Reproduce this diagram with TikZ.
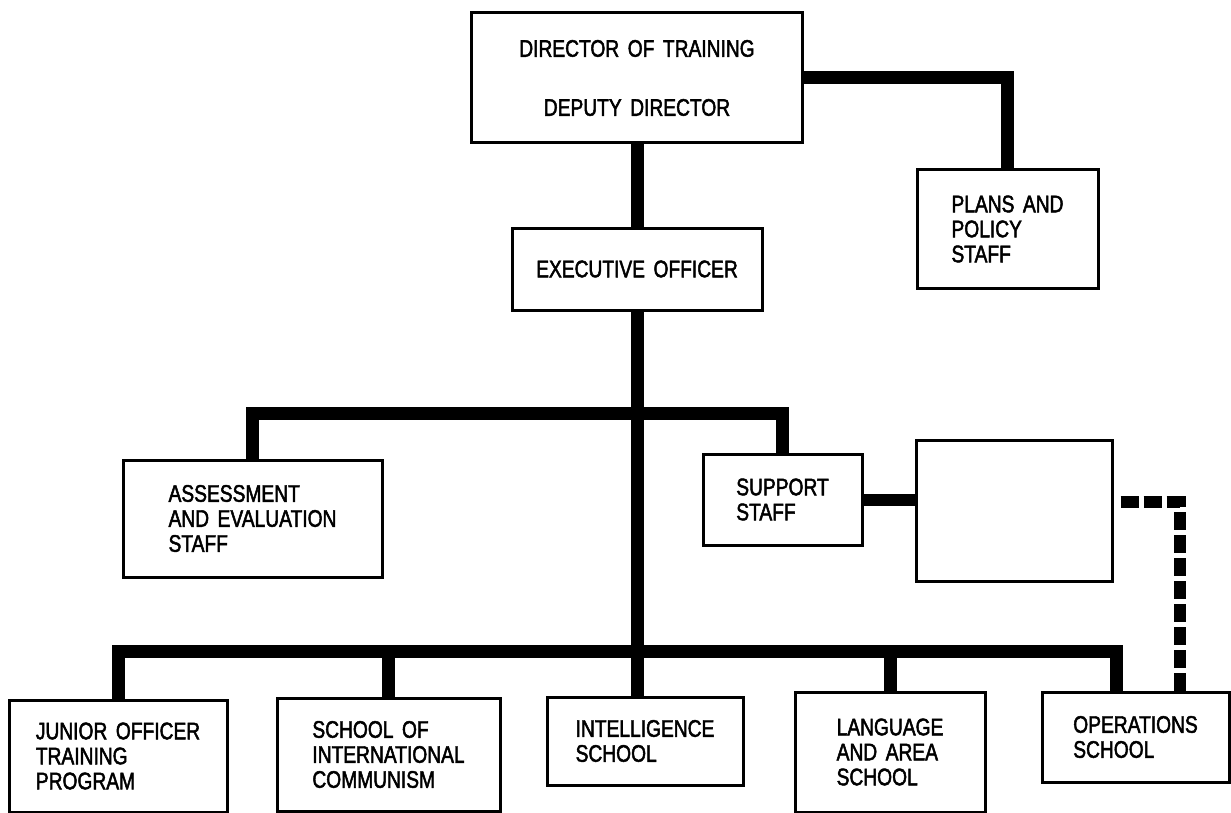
\documentclass[tikz,border=0pt]{standalone}
\usepackage{fontspec}
\setmainfont{Liberation Sans}[FakeStretch=0.8,FakeBold=2,WordSpace=1.6]
\usepackage{tikz}
\usetikzlibrary{calc}

\begin{document}
\begin{tikzpicture}[x=1pt,y=-1pt,
	box/.style={draw,line width=3pt,align=left,inner sep=4pt,font=\fontsize{24}{25}\selectfont},
	bar/.style={line width=13pt,line join=miter},
	dashbar/.style={line width=12pt,dash pattern=on 18pt off 5pt,line join=miter}]
	
	\useasboundingbox (0,0) rectangle (1231,813);
	
	\node[box,align=center,minimum width=331pt,minimum height=130pt] (director) at (637,78) {DIRECTOR OF TRAINING\\[34pt]DEPUTY DIRECTOR};
	\node[box,align=center,minimum width=250pt,minimum height=82pt] (exec) at (637,269) {EXECUTIVE OFFICER};
	\node[box,minimum width=181pt,minimum height=118pt] (plans) at (1007.5,229) {PLANS AND\\POLICY\\STAFF};
	
	\node[box,minimum width=259pt,minimum height=117pt] (assess) at (252.5,518.5) {ASSESSMENT\\AND EVALUATION\\STAFF};
	\node[box,minimum width=159pt,minimum height=91pt] (support) at (782.5,499.5) {SUPPORT\\STAFF};
	\node[box,minimum width=196pt,minimum height=141pt] (blank) at (1014,510.5) {};
	
	\node[box,minimum width=218pt,minimum height=112pt] (junior) at (118,756) {JUNIOR OFFICER\\TRAINING\\PROGRAM};
	\node[box,minimum width=223pt,minimum height=113pt] (school) at (388.5,754.5) {SCHOOL OF\\INTERNATIONAL\\COMMUNISM};
	\node[box,minimum width=196pt,minimum height=88pt] (intel) at (645,741) {INTELLIGENCE\\SCHOOL};
	\node[box,minimum width=190pt,minimum height=120pt] (lang) at (890,752) {LANGUAGE\\AND AREA\\SCHOOL};
	\node[box,minimum width=187pt,minimum height=90pt] (ops) at (1135.5,737) {OPERATIONS\\SCHOOL};
	
	\coordinate (upbus) at (640,413);
	\coordinate (lowbus) at (640,651);
	\coordinate (opsin) at ($(ops.north west)+(76,0)$);
	\coordinate (opsdash) at ($(ops.north west)+(139,0)$);
	
	\draw[bar] (director.south) -- (exec.north);
	\draw[bar] (director.east) -| (plans.north);
	\draw[bar] (exec.south) -- (exec.south |- intel.north);
	\draw[bar] (assess.north) |- (upbus) -| (support.north);
	\draw[bar] (junior.north) |- (lowbus) -| (opsin);
	\draw[bar] (school.north) -- (school.north |- lowbus);
	\draw[bar] (lang.north) -- (lang.north |- lowbus);
	\draw[line width=12pt] (support.east) -- (support.east -| blank.west);
	\draw[dashbar,shorten <=7pt] (blank.east |- 0,502) -| (opsdash);
	
\end{tikzpicture}
\end{document}
